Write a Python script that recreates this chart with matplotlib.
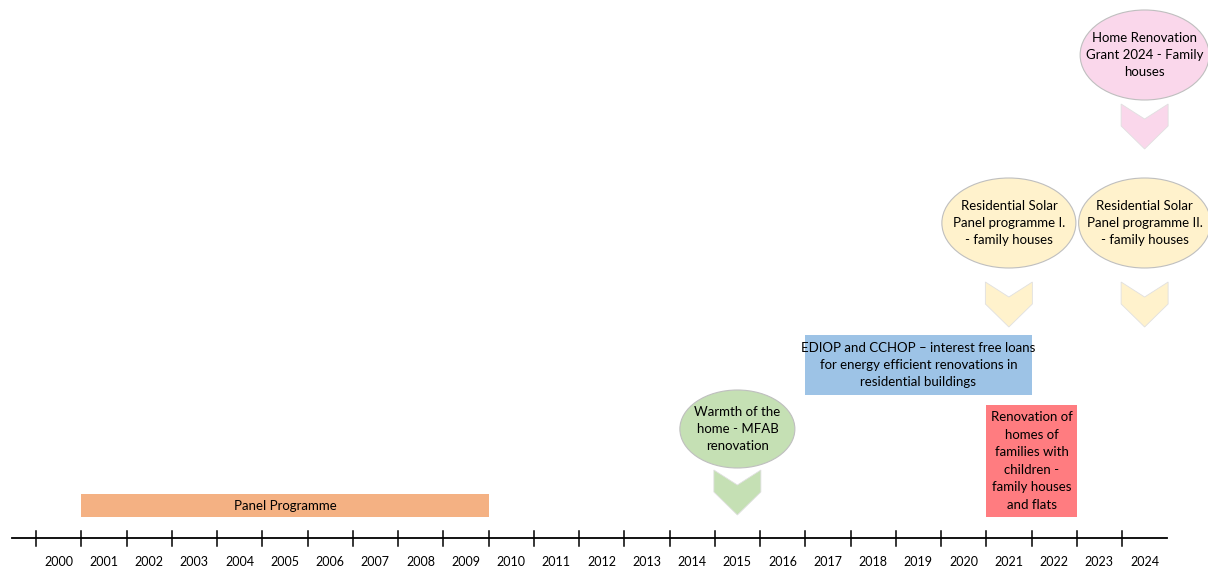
import matplotlib
matplotlib.use("Agg")
from matplotlib import pyplot as plt
from matplotlib.patches import Ellipse, Polygon, Rectangle

# years shown on the timeline
years = list(range(2000, 2025))

# programmes drawn as bars: (start, end, label, colour)
bar_starts = [2000.5, 2016.5, 2020.5]
bar_ends = [2009.5, 2021.5, 2022.5]
bar_labels = [
    "Panel Programme",
    "EDIOP and CCHOP \u2013 interest free loans\nfor energy efficient renovations in\nresidential buildings",
    "Renovation of\nhomes of\nfamilies with\nchildren -\nfamily houses\nand flats",
]

# programmes drawn as bubbles with an arrow down to their year
bubble_years = [2015, 2021, 2024, 2024]
bubble_labels = [
    "Warmth of the\nhome - MFAB\nrenovation",
    "Residential Solar\nPanel programme I.\n- family houses",
    "Residential Solar\nPanel programme II.\n- family houses",
    "Home Renovation\nGrant 2024 - Family\nhouses",
]

plt.rcParams["font.family"] = ["Lato", "DejaVu Sans"]

fig = plt.figure(figsize=(12.08, 5.68), dpi=100)
ax = fig.add_axes([0, 0, 1, 1])
px = 45.25  # pixels per year
ax.set_xlim(1999.5 - 36 / px, 1999.5 + (1208 - 36) / px)
ax.set_ylim(568, 0)
ax.axis("off")


def w(pixels):
    return pixels / px


# timeline axis
ax.plot([1999.5 - w(24), 2024.5], [538, 538], color="black", lw=1.3)
for yr in years:
    ax.plot([yr - 0.5, yr - 0.5], [531, 546], color="black", lw=1.1)
    ax.text(yr, 562, str(yr), ha="center", va="center", fontsize=9)

# bars
bar_rows = [(494, 517), (335, 395), (405, 517)]
bar_colors = ["#F4B183", "#9DC3E6", "#FF7C80"]
for s, e, lab, c, (top, bot) in zip(bar_starts, bar_ends, bar_labels, bar_colors, bar_rows):
    ax.add_patch(Rectangle((s, top), e - s, bot - top, facecolor=c, edgecolor="none"))
    ax.text((s + e) / 2, (top + bot) / 2, lab, ha="center", va="center",
            fontsize=9.5, linespacing=1.55)

# bubbles and chevrons
bubble_cy = [429, 223, 223, 55]
bubble_w = [115, 134, 132, 129]
bubble_h = [78, 90, 90, 90]
bubble_colors = ["#C5E0B4", "#FFF2CC", "#FFF2CC", "#FAD7EB"]
chev_top = [470, 282, 282, 104]
for yr, lab, cy, bw, bh, c, ct in zip(bubble_years, bubble_labels, bubble_cy,
                                       bubble_w, bubble_h, bubble_colors, chev_top):
    ax.add_patch(Ellipse((yr, cy), w(bw), bh, facecolor=c, edgecolor="#BFBFBF", lw=0.8))
    ax.text(yr, cy, lab, ha="center", va="center", fontsize=9.5, linespacing=1.55)
    hw = w(23.5)
    pts = [(yr - hw, ct), (yr, ct + 15), (yr + hw, ct), (yr + hw, ct + 22),
           (yr, ct + 45), (yr - hw, ct + 22)]
    ax.add_patch(Polygon(pts, closed=True, facecolor=c, edgecolor="#E0E0E0", lw=0.6))

fig.savefig("out.png", dpi=100)
